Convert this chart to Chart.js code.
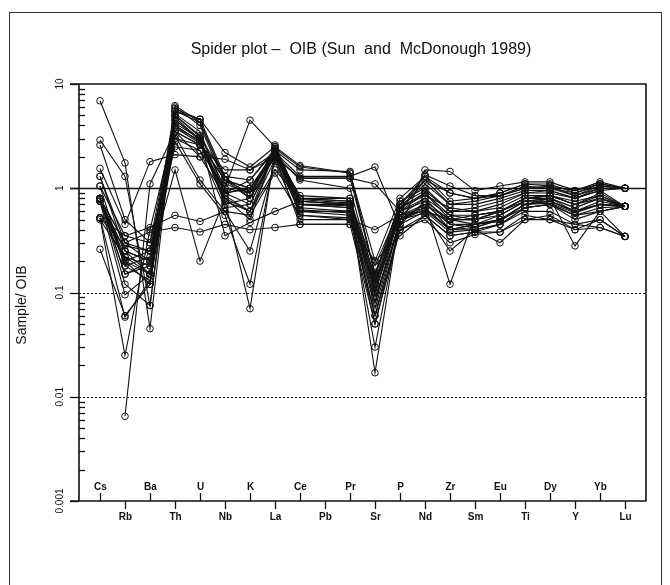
<!DOCTYPE html>
<html>
<head>
<meta charset="utf-8">
<script src="https://cdn.jsdelivr.net/npm/chart.js@4.4.0/dist/chart.umd.min.js"></script>
<style>
  body { margin: 0; background: #fff; }
  canvas { display: block; }
</style>
</head>
<body>
<canvas id="spider" width="670" height="585"></canvas>
<script>
// element order along the x axis (Pb has no data, lines span over it)
const elements = ["Cs","Rb","Ba","Th","U","Nb","K","La","Ce","Pb","Pr","Sr","P","Nd","Zr","Sm","Eu","Ti","Dy","Y","Yb","Lu"];
const yTicks = [10, 1, 0.1, 0.01, 0.001];
const yTickLabels = ["10", "1", "0.1", "0.01", "0.001"];

// sample / OIB ratios
const s01 = [6.9, 1.75, 0.045, 5.5, 4.3, 1.2, 0.9, 2.3, 0.8, null, 0.75, 0.12, 0.6, 0.9, 0.55, 0.5, 0.6, 0.8, 0.85, 0.7, 0.9, 0.67];
const s02 = [2.9, 1.3, 0.075, 4.5, 2.9, 0.9, 1.0, 2.1, 0.75, null, 0.7, 0.1, 0.55, 0.8, 0.45, 0.45, 0.55, 0.75, 0.8, 0.65, 0.8, 0.67];
const s03 = [2.6, 0.5, 0.3, 5.0, 3.1, 1.3, 1.2, 2.4, 1.6, null, 1.4, 0.15, 0.7, 1.3, 0.75, 0.8, 0.9, 1.1, 1.1, 0.9, 1.1, 1.0];
const s04 = [1.55, 0.45, 1.8, 2.1, 2.0, 1.9, 1.5, 2.2, 1.3, null, 1.3, 1.6, 0.42, 1.5, 1.45, 0.95, 1.05, 1.15, 1.15, 0.95, 1.15, 1.0];
const s05 = [1.3, 0.3, 0.25, 3.5, 2.6, 1.5, 1.5, 2.0, 1.25, null, 1.25, 0.15, 0.6, 1.35, 1.05, 0.85, 0.85, 1.0, 1.05, 0.85, 1.05, 1.0];
const s06 = [1.05, 0.35, 0.42, 0.55, 0.48, 0.6, 0.55, 1.4, 0.55, null, 0.5, 0.4, 0.55, 0.6, 0.5, 0.45, 0.5, 0.65, 0.7, 0.55, 0.6, 0.67];
const s07 = [0.8, 0.3, 0.38, 0.42, 0.38, 0.45, 0.4, 0.42, 0.45, null, 0.45, 0.2, 0.35, 0.55, 0.35, 0.38, 0.38, 0.5, 0.5, 0.4, 0.42, 0.345];
const s08 = [0.78, 0.25, 0.2, 1.5, 0.2, 0.8, 0.6, 1.5, 0.8, null, 0.75, 0.13, 0.5, 0.7, 0.5, 0.5, 0.6, 0.75, 0.75, 0.6, 0.7, 0.67];
const s09 = [0.75, 0.2, 0.15, 3.0, 2.3, 1.0, 4.5, 2.5, 0.7, null, 0.65, 0.09, 0.45, 0.75, 0.4, 0.45, 0.5, 0.7, 0.8, 0.6, 0.75, 0.67];
const s10 = [null, 0.0065, 1.1, 3.5, 2.6, 1.2, 1.0, 2.0, 1.25, null, 1.25, 1.1, 0.6, 1.2, 0.9, 0.8, 0.85, 1.0, 1.0, 0.85, 1.0, 1.0];
const s11 = [0.52, 0.025, 0.4, 4.0, 2.8, 0.9, 0.7, 2.2, 0.7, null, 0.65, 0.07, 0.5, 0.65, 0.4, 0.42, 0.5, 0.7, 0.75, 0.6, 0.7, 0.67];
const s12 = [0.52, 0.058, 0.13, 3.8, 2.9, 0.75, 0.6, 2.3, 0.6, null, 0.6, 0.05, 0.45, 0.6, 0.38, 0.4, 0.45, 0.65, 0.7, 0.55, 0.65, 0.67];
const s13 = [0.26, 0.06, 0.12, 4.2, 3.0, 0.8, 0.5, 2.4, 0.62, null, 0.58, 0.03, 0.5, 0.62, 0.4, 0.45, 0.48, 0.7, 0.72, 0.58, 0.7, 0.67];
const s14 = [0.75, 0.095, 0.15, 5.8, 4.6, 1.3, 0.8, 2.6, 0.75, null, 0.7, 0.017, 0.55, 0.7, 0.12, 0.55, 0.6, 0.8, 0.8, 0.28, 0.6, 0.345];
const s15 = [0.8, 0.12, 0.075, 6.2, 4.3, 1.2, 1.0, 2.2, 0.8, null, 0.8, 0.1, 0.65, 0.85, 0.65, 0.6, 0.65, 0.85, 0.85, 0.75, 0.85, 0.67];
const s16 = [0.8, 0.15, 0.2, 5.0, 3.2, 1.0, 0.9, 2.1, 0.7, null, 0.7, 0.08, 0.6, 0.75, 0.5, 0.5, 0.55, 0.75, 0.8, 0.65, 0.8, 0.67];
const s17 = [0.78, 0.2, 0.25, 4.0, 2.8, 0.7, 0.8, 2.0, 0.65, null, 0.6, 0.06, 0.5, 0.7, 0.45, 0.42, 0.5, 0.7, 0.75, 0.6, 0.7, 0.67];
const s18 = [0.75, 0.25, 0.15, 3.5, 2.0, 0.85, 0.6, 1.9, 0.6, null, 0.55, 0.12, 0.55, 0.65, 0.4, 0.4, 0.45, 0.65, 0.7, 0.5, 0.6, 0.67];
const s19 = [0.52, 0.35, 0.3, 3.0, 2.6, 0.9, 1.2, 2.3, 1.5, null, 1.45, 0.15, 0.7, 1.2, 0.7, 0.75, 0.85, 1.05, 1.0, 0.9, 1.05, 1.0];
const s20 = [0.52, 0.28, 0.25, 2.5, 2.3, 0.65, 0.7, 2.2, 0.85, null, 0.8, 0.14, 0.75, 1.0, 0.6, 0.6, 0.7, 0.9, 0.9, 0.8, 0.95, 1.0];
const s21 = [0.8, 0.3, 0.2, 4.5, 3.0, 0.35, 0.47, 0.6, 0.75, null, 0.7, 0.18, 0.65, 0.9, 0.5, 0.55, 0.6, 0.8, 0.85, 0.7, 0.8, 0.67];
const s22 = [0.5, 0.22, 0.18, 5.5, 4.6, 2.2, 1.6, 2.5, 1.65, null, 1.4, 0.2, 0.8, 1.3, 0.9, 0.8, 0.9, 1.1, 1.05, 0.95, 1.1, 1.0];
const s23 = [0.8, 0.2, 0.12, 3.2, 1.2, 0.6, 0.25, 1.8, 0.5, null, 0.5, 0.06, 0.4, 0.55, 0.35, 0.38, 0.45, 0.6, 0.6, 0.45, 0.5, 0.345];
const s24 = [1.05, 0.18, 0.13, 2.8, 1.1, 0.55, 0.12, 2.0, 0.45, null, 0.45, 0.05, 0.4, 0.5, 0.3, 0.36, 0.38, 0.55, 0.5, 0.45, 0.42, 0.345];
const s25 = [0.78, 0.22, 0.15, 4.8, 2.9, 0.75, 0.07, 2.2, 0.55, null, 0.52, 0.08, 0.5, 0.58, 0.25, 0.4, 0.3, 0.5, 0.55, 0.4, 0.5, 0.345];
const s26 = [0.75, 0.15, 0.18, 5.2, 3.5, 0.9, 1.0, 2.3, 0.7, null, 0.68, 0.1, 0.6, 0.8, 0.55, 0.55, 0.6, 0.8, 0.85, 0.7, 0.85, 0.67];
const s27 = [0.8, 0.18, 0.22, 6.0, 4.0, 1.1, 0.9, 2.4, 0.78, null, 0.72, 0.11, 0.7, 0.95, 0.6, 0.65, 0.75, 0.9, 0.95, 0.8, 0.95, 0.67];
const s28 = [1.3, 0.25, 0.2, 3.8, 2.7, 1.2, 0.8, 2.1, 1.2, null, 1.0, 0.13, 0.65, 1.1, 0.7, 0.7, 0.8, 0.95, 0.95, 0.8, 1.0, 1.0];

const samples = [s01, s02, s03, s04, s05, s06, s07, s08, s09, s10, s11, s12, s13, s14,
                 s15, s16, s17, s18, s19, s20, s21, s22, s23, s24, s25, s26, s27, s28];

const ink = "#111";
const labelFont = 'bold 10px "Liberation Sans Narrow", "Liberation Sans", Arial, sans-serif';

// axes, frame and texts drawn with the chart's own scales
const spiderFrame = {
    id: "spiderFrame",
    beforeDatasetsDraw(chart) {
        const { ctx, chartArea: a, scales: { y } } = chart;
        ctx.save();
        ctx.strokeStyle = ink;
        ctx.lineWidth = 1.3;
        let py = Math.round(y.getPixelForValue(1)) + 0.5;
        ctx.beginPath(); ctx.moveTo(a.left - 9, py); ctx.lineTo(a.right, py); ctx.stroke();
        ctx.lineWidth = 1;
        ctx.setLineDash([2, 2]);
        [0.1, 0.01].forEach(v => {
            py = Math.round(y.getPixelForValue(v)) + 0.5;
            ctx.beginPath(); ctx.moveTo(a.left, py); ctx.lineTo(a.right, py); ctx.stroke();
        });
        ctx.restore();
    },
    afterDatasetsDraw(chart) {
        const { ctx, chartArea: a, scales: { x, y } } = chart;
        ctx.save();
        ctx.strokeStyle = "#333";
        ctx.lineWidth = 1;
        // outer picture frame
        ctx.strokeRect(9.5, 12.5, 652, 620);

        ctx.strokeStyle = ink;
        ctx.lineWidth = 1.6;
        ctx.beginPath();
        ctx.moveTo(a.left - 9, a.top); ctx.lineTo(a.right, a.top); ctx.lineTo(a.right, a.bottom);
        ctx.lineTo(a.left - 9, a.bottom);
        ctx.moveTo(a.left, a.top); ctx.lineTo(a.left, a.bottom);
        ctx.stroke();

        // y major ticks outward, minor ticks inward
        ctx.lineWidth = 1.3;
        yTicks.forEach(v => {
            const py = Math.round(y.getPixelForValue(v)) + 0.5;
            ctx.beginPath(); ctx.moveTo(a.left - 9, py); ctx.lineTo(a.left, py); ctx.stroke();
        });
        for (let d = -3; d < 1; d++) {
            for (let k = 2; k < 10; k++) {
                const py = Math.round(y.getPixelForValue(k * Math.pow(10, d))) + 0.5;
                ctx.beginPath(); ctx.moveTo(a.left, py); ctx.lineTo(a.left + 6, py); ctx.stroke();
            }
        }
        ctx.fillStyle = ink;
        ctx.font = '10px "Liberation Sans", Arial, sans-serif';
        ctx.textAlign = "center";
        ctx.textBaseline = "middle";
        yTicks.forEach((v, i) => {
            ctx.save();
            ctx.translate(a.left - 19, y.getPixelForValue(v));
            ctx.rotate(-Math.PI / 2);
            ctx.fillText(yTickLabels[i], 0, 0);
            ctx.restore();
        });

        // element ticks: even ones up inside, odd ones down outside
        ctx.font = labelFont;
        elements.forEach((el, i) => {
            const px = Math.round(x.getPixelForValue(i)) + 0.5;
            const up = i % 2 === 0;
            ctx.beginPath();
            ctx.moveTo(px, a.bottom);
            ctx.lineTo(px, up ? a.bottom - 8 : a.bottom + 8);
            ctx.stroke();
            ctx.fillText(el, px, up ? a.bottom - 14 : a.bottom + 16);
        });

        // titles
        ctx.font = '16px "Liberation Sans", Arial, sans-serif';
        ctx.fillText("Spider plot \u2013  OIB (Sun  and  McDonough 1989)", 361, 50);
        ctx.font = '14px "Liberation Sans", Arial, sans-serif';
        ctx.save();
        ctx.translate(22, 305);
        ctx.rotate(-Math.PI / 2);
        ctx.fillText("Sample/ OIB", 0, 0);
        ctx.restore();
        ctx.restore();
    }
};

new Chart(document.getElementById("spider"), {
    type: "line",
    data: {
        datasets: samples.map((vals, n) => ({
            label: "sample " + (n + 1),
            data: vals.map((v, i) => ({ x: i, y: v })),
            borderColor: "#111",
            borderWidth: 1.1,
            pointRadius: 3.3,
            pointBorderWidth: 1,
            pointBorderColor: "#111",
            pointBackgroundColor: "rgba(255,255,255,0)",
            spanGaps: true,
            tension: 0,
        })),
    },
    options: {
        responsive: false,
        animation: false,
        devicePixelRatio: 1,
        layout: { padding: { left: 79, right: 24, top: 84, bottom: 84 } },
        plugins: { legend: { display: false }, tooltip: { enabled: false }, title: { display: false } },
        scales: {
            x: { type: "linear", min: -0.84, max: 21.84, display: false },
            y: { type: "logarithmic", min: 0.001, max: 10, display: false },
        },
    },
    plugins: [spiderFrame],
});
</script>
</body>
</html>
